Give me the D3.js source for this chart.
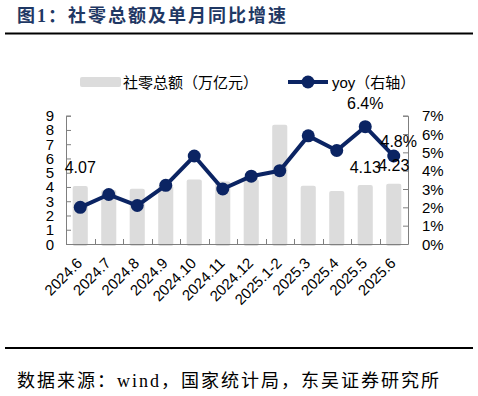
<!DOCTYPE html>
<html><head><meta charset="utf-8">
<script src="https://cdn.jsdelivr.net/npm/d3@7/dist/d3.min.js"></script>
<style>
html,body{margin:0;padding:0;background:#fff;}
svg{display:block;}
</style></head>
<body>
<script>
const categories = ["2024.6","2024.7","2024.8","2024.9","2024.10","2024.11","2024.12","2025.1-2","2025.3","2025.4","2025.5","2025.6"];
const retailSales = [4.07,3.78,3.87,4.11,4.53,4.38,4.55,8.37,4.09,3.72,4.13,4.23];
const yoy = [0.020,0.027,0.021,0.032,0.048,0.030,0.037,0.040,0.059,0.051,0.064,0.048];
const leftTicks = [0,1,2,3,4,5,6,7,8,9];
const rightTicks = [0,0.01,0.02,0.03,0.04,0.05,0.06,0.07];
const barLabelIdx = [0,10,11];
const lineLabelIdx = [10,11];
const titleText = "图1：社零总额及单月同比增速";
const sourceText = "数据来源：wind，国家统计局，东吴证券研究所";
const legendBar = "社零总额（万亿元）";
const legendLine = "yoy（右轴）";

const W=478,H=396;
const svg=d3.select("body").append("svg").attr("width",W).attr("height",H);
const navy="#0b2463", grey="#dcdcdc", axisC="#7f7f7f";
const cjk="'Liberation Sans','Noto Sans CJK SC',Arial,sans-serif";
const serif="'Liberation Serif','Noto Sans CJK SC',serif";

// title
svg.append("text").attr("x",17).attr("y",22).attr("fill","#1f3864")
  .attr("font-family",serif).attr("font-weight","bold").attr("font-size",18)
  .attr("letter-spacing",2).text(titleText);
svg.append("line").attr("x1",5).attr("x2",473).attr("y1",33.5).attr("y2",33.5)
  .attr("stroke","#000").attr("stroke-width",2);
svg.append("line").attr("x1",5).attr("x2",473).attr("y1",348).attr("y2",348)
  .attr("stroke","#000").attr("stroke-width",2);
svg.append("text").attr("x",17).attr("y",387).attr("fill","#000")
  .attr("font-family",serif).attr("font-size",18).attr("letter-spacing",2).text(sourceText);

const x0=66,x1=408,yB=244,yT=115.7;
const x=d3.scaleBand().domain(categories).range([x0,x1]).padding(0);
const yL=d3.scaleLinear().domain([0,9]).range([yB,yT]);
const yR=d3.scaleLinear().domain([0,0.07]).range([yB,yT]);
const bw=x.bandwidth()*0.53;
const cx=d=>x(d)+x.bandwidth()/2;

// bars
svg.append("g").selectAll("rect").data(categories).join("rect")
  .attr("x",d=>cx(d)-bw/2).attr("width",bw)
  .attr("y",(d,i)=>yL(retailSales[i])).attr("height",(d,i)=>yB-yL(retailSales[i])+2)
  .attr("rx",2).attr("fill",grey);

// axes
const gl=svg.append("g").attr("transform",`translate(${x0},0)`)
  .call(d3.axisRight(yL).tickValues(leftTicks).tickSize(5).tickFormat(""));
const gr=svg.append("g").attr("transform",`translate(${x1},0)`)
  .call(d3.axisLeft(yR).tickValues(rightTicks).tickSize(5).tickFormat(""));
[gl,gr].forEach(g=>{g.select(".domain").attr("stroke",axisC);g.selectAll(".tick line").attr("stroke",axisC);});
svg.append("g").selectAll("text").data(leftTicks).join("text")
  .attr("x",54).attr("y",d=>yL(d)+5.5).attr("text-anchor","end")
  .attr("font-family",cjk).attr("font-size",15).attr("fill","#000").text(d=>d);
svg.append("g").selectAll("text").data(rightTicks).join("text")
  .attr("x",422).attr("y",d=>yR(d)+5.5).attr("text-anchor","start")
  .attr("font-family",cjk).attr("font-size",15).attr("fill","#000").text(d3.format(".0%"));
// x axis
svg.append("line").attr("x1",x0).attr("x2",x1).attr("y1",yB+0.5).attr("y2",yB+0.5).attr("stroke",axisC);
const bounds=categories.map(d=>x(d)).concat([x1]);
svg.append("g").selectAll("line").data(bounds).join("line")
  .attr("x1",d=>Math.round(d)+0.5).attr("x2",d=>Math.round(d)+0.5).attr("y1",yB).attr("y2",yB-5).attr("stroke",axisC);
svg.append("g").selectAll("text").data(categories).join("text")
  .attr("transform",d=>`translate(${cx(d)+3},${yB+20}) rotate(-45)`)
  .attr("text-anchor","end").attr("font-family",cjk).attr("font-size",15).attr("fill","#000").text(d=>d);

// line
const line=d3.line().x((d,i)=>cx(categories[i])).y(d=>yR(d));
svg.append("path").datum(yoy).attr("d",line).attr("fill","none").attr("stroke",navy).attr("stroke-width",4).attr("stroke-linejoin","round");
svg.append("g").selectAll("circle").data(yoy).join("circle")
  .attr("cx",(d,i)=>cx(categories[i])).attr("cy",d=>yR(d)).attr("r",6.5).attr("fill",navy);

// labels
svg.append("g").selectAll("text").data(barLabelIdx).join("text")
  .attr("x",i=>cx(categories[i])).attr("y",i=>yL(retailSales[i])-12.5)
  .attr("text-anchor","middle").attr("font-family",cjk).attr("font-size",16).attr("fill","#000")
  .text(i=>retailSales[i].toFixed(2));
const lineOff=[[0,-18],[5,-9]];
svg.append("g").selectAll("text").data(lineLabelIdx).join("text")
  .attr("x",(i,k)=>cx(categories[i])+lineOff[k][0]).attr("y",(i,k)=>yR(yoy[i])+lineOff[k][1])
  .attr("text-anchor","middle").attr("font-family",cjk).attr("font-size",16).attr("fill","#000")
  .text(i=>d3.format(".1%")(yoy[i]));

// legend
svg.append("rect").attr("x",80).attr("y",77).attr("width",41).attr("height",10).attr("rx",2).attr("fill",grey);
svg.append("text").attr("x",123).attr("y",88).attr("font-family",cjk).attr("font-size",15).attr("fill","#000").text(legendBar);
svg.append("line").attr("x1",288).attr("x2",328).attr("y1",82).attr("y2",82).attr("stroke",navy).attr("stroke-width",4);
svg.append("circle").attr("cx",308).attr("cy",82).attr("r",6.5).attr("fill",navy);
svg.append("text").attr("x",332).attr("y",88).attr("font-family",cjk).attr("font-size",15).attr("fill","#000").text(legendLine);
</script>
</body></html>
